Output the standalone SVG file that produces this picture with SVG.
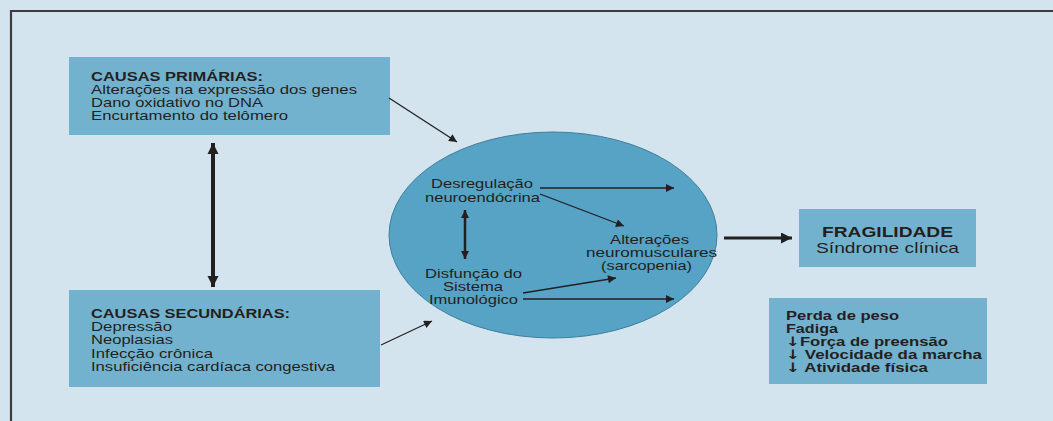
<svg xmlns="http://www.w3.org/2000/svg" width="1053" height="421" viewBox="0 0 1053 421">
<defs>
<style>
text{font-family:"Liberation Sans",Arial,sans-serif;fill:#231f20;}
.t{font-size:13.5px;}
.e{font-size:13px;}
.b{font-weight:bold;}
.s{font-size:13px;font-weight:bold;}
.ar{font-family:"DejaVu Sans",sans-serif;}
.box{fill:#73b2ce;}
.ln{stroke:#231f20;fill:none;stroke-width:1.3;}
.thick{stroke:#231f20;fill:none;stroke-width:4;}
.mid{stroke:#231f20;fill:none;stroke-width:2.5;}
.big{stroke:#231f20;fill:none;stroke-width:3;}
</style>
<marker id="ah" viewBox="0 0 10 10" refX="10" refY="5" markerWidth="12" markerHeight="8" markerUnits="userSpaceOnUse" orient="auto-start-reverse">
<path d="M0,0 L10,5 L0,10 z" fill="#231f20"/>
</marker>
<marker id="ahThick" viewBox="0 0 10 10" refX="10" refY="5" markerWidth="11" markerHeight="16" markerUnits="userSpaceOnUse" orient="auto-start-reverse">
<path d="M0,0 L10,5 L0,10 z" fill="#231f20"/>
</marker>
<marker id="ahMid" viewBox="0 0 10 10" refX="10" refY="5" markerWidth="8" markerHeight="11" markerUnits="userSpaceOnUse" orient="auto-start-reverse">
<path d="M0,0 L10,5 L0,10 z" fill="#231f20"/>
</marker>
<marker id="ahBig" viewBox="0 0 10 10" refX="10" refY="5" markerWidth="17" markerHeight="11" markerUnits="userSpaceOnUse" orient="auto">
<path d="M0,0 L10,5 L0,10 z" fill="#231f20"/>
</marker>
</defs>
<rect x="0" y="0" width="1053" height="421" fill="#d3e4ee"/>
<path d="M11,421 V11 H1053" stroke="#3c3c3c" stroke-width="2.2" fill="none"/>

<g id="primarias">
<rect class="box" x="69" y="57" width="321" height="78"/>
<text class="t b" x="91" y="81" textLength="172" lengthAdjust="spacingAndGlyphs">CAUSAS PRIMÁRIAS:</text>
<text class="t" x="91" y="94" textLength="266" lengthAdjust="spacingAndGlyphs">Alterações na expressão dos genes</text>
<text class="t" x="91" y="107" textLength="172" lengthAdjust="spacingAndGlyphs">Dano oxidativo no DNA</text>
<text class="t" x="91" y="120" textLength="197" lengthAdjust="spacingAndGlyphs">Encurtamento do telômero</text>
</g>

<g id="secundarias">
<rect class="box" x="69" y="290" width="311" height="97"/>
<text class="t b" x="91" y="318" textLength="199" lengthAdjust="spacingAndGlyphs">CAUSAS SECUNDÁRIAS:</text>
<text class="t" x="91" y="331" textLength="81" lengthAdjust="spacingAndGlyphs">Depressão</text>
<text class="t" x="91" y="344" textLength="82" lengthAdjust="spacingAndGlyphs">Neoplasias</text>
<text class="t" x="91" y="358" textLength="122" lengthAdjust="spacingAndGlyphs">Infecção crônica</text>
<text class="t" x="91" y="371" textLength="244" lengthAdjust="spacingAndGlyphs">Insuficiência cardíaca congestiva</text>
</g>

<g id="mecanismos">
<ellipse cx="553" cy="235" rx="164" ry="103" fill="#56a3c5" stroke="#3f7f9c" stroke-width="1"/>
<text class="e" x="431" y="188" textLength="102" lengthAdjust="spacingAndGlyphs">Desregulação</text>
<text class="e" x="425" y="202" textLength="115" lengthAdjust="spacingAndGlyphs">neuroendócrina</text>
<text class="e" x="425" y="278" textLength="97" lengthAdjust="spacingAndGlyphs">Disfunção do</text>
<text class="e" x="443" y="291" textLength="60" lengthAdjust="spacingAndGlyphs">Sistema</text>
<text class="e" x="429" y="304" textLength="89" lengthAdjust="spacingAndGlyphs">Imunológico</text>
<text class="e" x="610" y="244" textLength="79" lengthAdjust="spacingAndGlyphs">Alterações</text>
<text class="e" x="586" y="257" textLength="131" lengthAdjust="spacingAndGlyphs">neuromusculares</text>
<text class="e" x="601" y="270" textLength="91" lengthAdjust="spacingAndGlyphs">(sarcopenia)</text>
</g>

<g id="fragilidade">
<rect class="box" x="799" y="209" width="177" height="58"/>
<text x="822" y="237" class="b" font-size="15" textLength="131" lengthAdjust="spacingAndGlyphs">FRAGILIDADE</text>
<text x="816" y="253" font-size="15" textLength="143" lengthAdjust="spacingAndGlyphs">Síndrome clínica</text>
</g>

<g id="sintomas">
<rect class="box" x="769" y="298" width="218" height="86"/>
<text class="s" x="786" y="320" textLength="113" lengthAdjust="spacingAndGlyphs">Perda de peso</text>
<text class="s" x="786" y="333" textLength="52" lengthAdjust="spacingAndGlyphs">Fadiga</text>
<text class="s" x="786" y="346" textLength="162" lengthAdjust="spacingAndGlyphs"><tspan class="ar">↓</tspan>Força de preensão</text>
<text class="s" x="786" y="359" textLength="196" lengthAdjust="spacingAndGlyphs"><tspan class="ar">↓</tspan> Velocidade da marcha</text>
<text class="s" x="786" y="372" textLength="142" lengthAdjust="spacingAndGlyphs"><tspan class="ar">↓</tspan> Atividade física</text>
</g>

<g id="connectors">
<line class="thick" x1="213" y1="143" x2="213" y2="287" marker-start="url(#ahThick)" marker-end="url(#ahThick)"/>
<line class="ln" x1="389" y1="98" x2="457" y2="142" marker-end="url(#ah)"/>
<line class="ln" x1="381" y1="345" x2="432" y2="321" marker-end="url(#ah)"/>
<line class="ln" x1="540" y1="188" x2="674" y2="188" marker-end="url(#ah)"/>
<line class="ln" x1="540" y1="194" x2="624" y2="226" marker-end="url(#ah)"/>
<line class="mid" x1="465" y1="210" x2="465" y2="259" marker-start="url(#ahMid)" marker-end="url(#ahMid)"/>
<line class="ln" x1="523" y1="293" x2="616" y2="278" marker-end="url(#ah)"/>
<line class="ln" x1="523" y1="299" x2="674" y2="299" marker-end="url(#ah)"/>
<line class="big" x1="724" y1="238" x2="792" y2="238" marker-end="url(#ahBig)"/>
</g>
</svg>
